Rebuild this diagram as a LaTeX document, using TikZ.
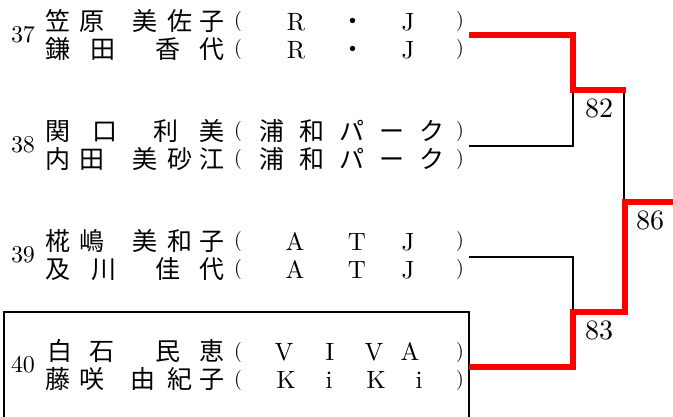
\documentclass[tikz,border=0pt]{standalone}
\usepackage{fontspec}
\setmainfont{lmroman10-regular}[Extension=.otf]
\newfontfamily\cjk{Noto Sans CJK JP}
\tikzset{
  cj/.style={anchor=base,inner sep=0pt,font=\cjk\fontsize{25}{25}\selectfont},
  lt/.style={anchor=base,inner sep=0pt,font=\fontsize{25}{25}\selectfont},
  paren/.style={anchor=center,inner sep=0pt,font=\fontsize{20}{20}\selectfont},
  seed/.style={anchor=center,inner sep=0pt,font=\fontsize{24}{24}\selectfont},
  score/.style={anchor=center,inner sep=0pt,font=\fontsize{28}{28}\selectfont},
  win/.style={draw=red,line width=6pt},
  lose/.style={draw=black,line width=2pt},
  boxline/.style={draw=black,line width=2pt}
}
\newcommand\cjrow[3]{\foreach \c/\x [count=\i] in {#3} {\node[cj] (#1-\i) at (\x,#2) {\c};}}
\newcommand\ltrow[3]{\foreach \c/\x [count=\i] in {#3} {\node[lt] (#1-\i) at (\x,#2) {\c};}}
\newcommand\parens[2]{\node[paren] (#1-l) at (238,#2) {(}; \node[paren] (#1-r) at (460,#2) {)};}
\begin{document}
\begin{tikzpicture}[x=1pt,y=-1pt]
\useasboundingbox (0,0) rectangle (673,417);
% seeds
\node[seed] (s37) at (23,35) {37};
\node[seed] (s38) at (23,145) {38};
\node[seed] (s39) at (23,255) {39};
\node[seed] (s40) at (23,365) {40};
% group 37
\cjrow{a1}{30.5}{笠/58,原/92,美/145,佐/180,子/212}
\cjrow{a2}{58.5}{鎌/58,田/103,香/168,代/212}
\parens{pa1}{22}\parens{pa2}{50}
\ltrow{ta1}{30.5}{R/296,{\cjk ・}/353,J/408}
\ltrow{ta2}{58.5}{R/296,{\cjk ・}/353,J/408}
% group 38
\cjrow{b1}{140.5}{関/58,口/105,利/166,美/212}
\cjrow{b2}{168.5}{内/58,田/92,美/145,砂/180,江/212}
\parens{pb1}{132}\parens{pb2}{160}
\cjrow{tb1}{140.5}{浦/272,和/312,パ/352,ー/392,ク/432}
\cjrow{tb2}{168.5}{浦/272,和/312,パ/352,ー/392,ク/432}
% group 39
\cjrow{c1}{250.5}{椛/58,嶋/92,美/145,和/180,子/212}
\cjrow{c2}{278.5}{及/58,川/104,佳/168,代/212}
\parens{pc1}{242}\parens{pc2}{270}
\ltrow{tc1}{250.5}{A/295,T/357,J/408}
\ltrow{tc2}{278.5}{A/295,T/357,J/408}
% group 40
\cjrow{d1}{360.5}{白/60,石/102,民/168,恵/212}
\cjrow{d2}{388.5}{藤/58,咲/92,由/143,紀/180,子/212}
\parens{pd1}{352}\parens{pd2}{380}
\ltrow{td1}{360.5}{V/284,I/330,V/374,A/410}
\ltrow{td2}{388.5}{K/286,i/329,K/376,i/419}
% box round entry 40
\coordinate (bx1) at (4,417);
\coordinate (bx2) at (469,312);
\coordinate (bx3) at (469,417);
\draw[boxline] (bx1) |- (bx2) -- (bx3);
% bracket coordinates
\coordinate (e37) at (469,35);
\coordinate (e38) at (469,146);
\coordinate (e39) at (469,257);
\coordinate (e40) at (469,367);
\coordinate (j82) at (572.5,90);
\coordinate (k82) at (626,90);
\coordinate (j83) at (573,312);
\coordinate (k83) at (625,312);
\coordinate (f86) at (673,202);
\coordinate (t86) at (624,90);
\coordinate (u86) at (624,202);
% losers
\draw[lose] (e38) -| (j82);
\draw[lose] (e39) -| (j83);
\draw[lose] (t86) -- (u86);
% winners
\draw[win] (e37) -| (j82) -- (k82);
\draw[win] (f86) -| (k83) -- (j83) |- (e40);
% scores
\node[score] (r82) at (599,108) {82};
\node[score] (r86) at (650,220) {86};
\node[score] (r83) at (599,330) {83};
\end{tikzpicture}
\end{document}
